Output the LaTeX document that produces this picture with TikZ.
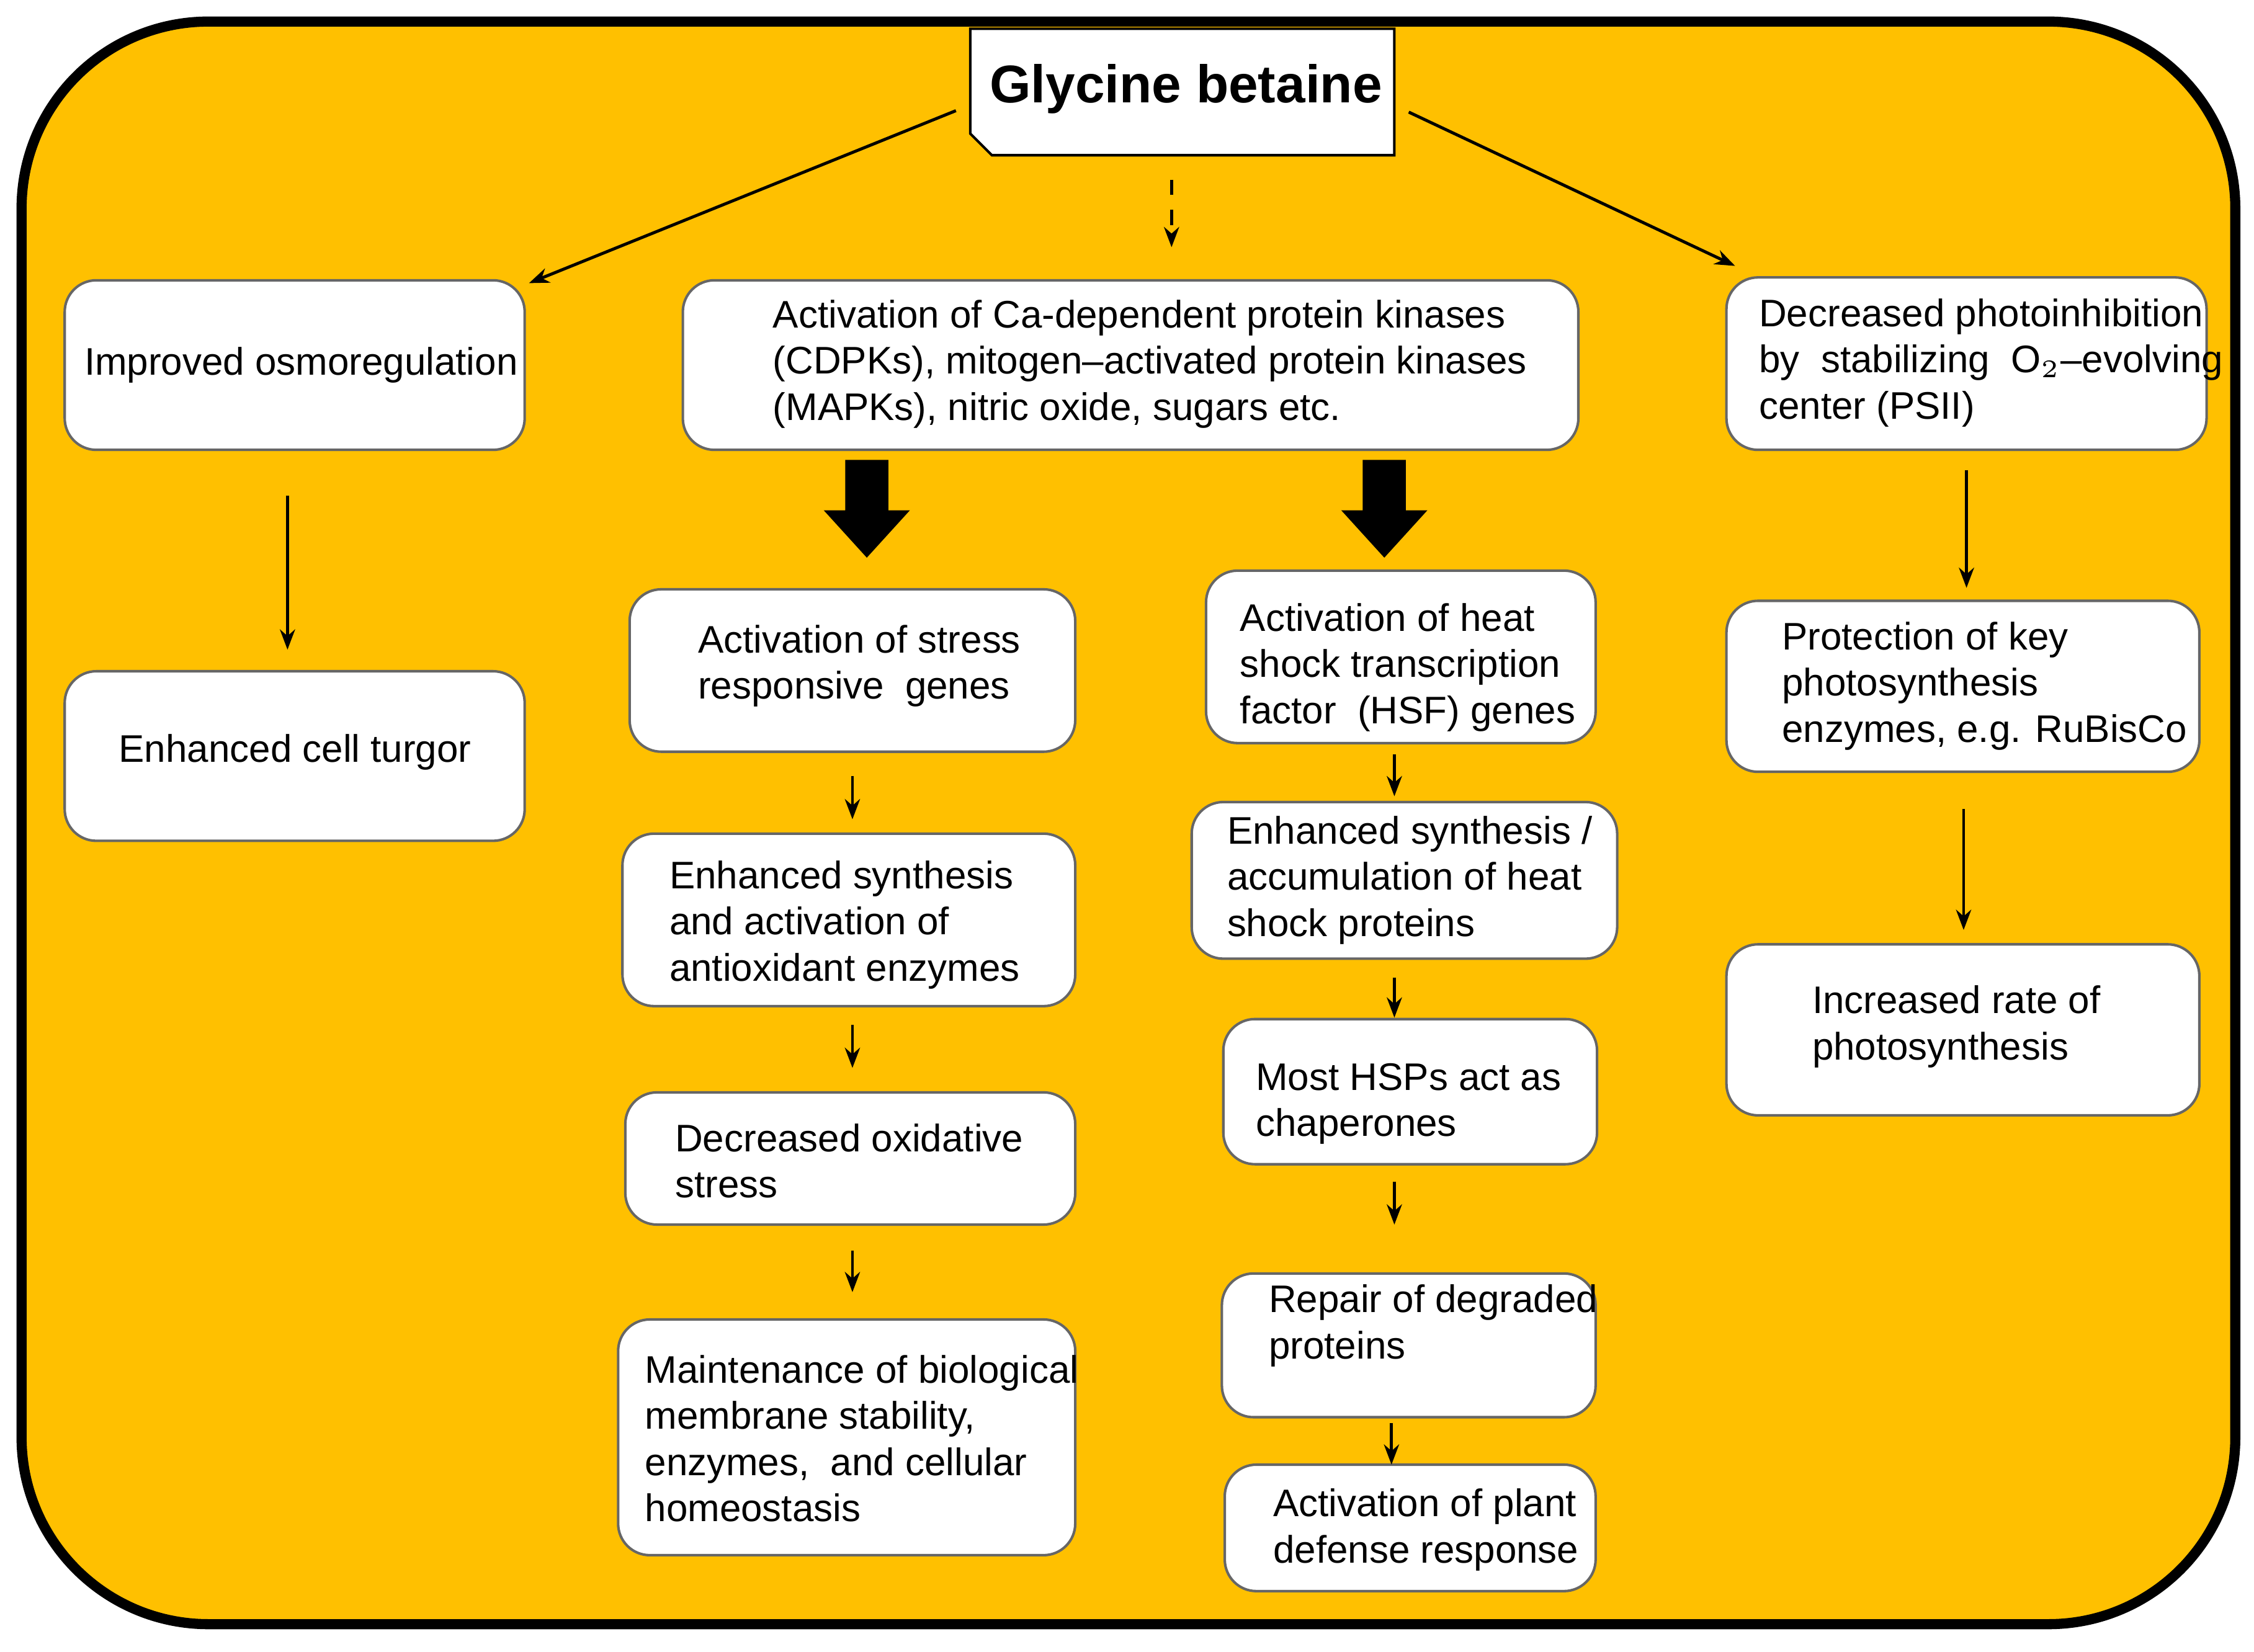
\documentclass[tikz,border=0pt]{standalone}
\usepackage{fontspec}
\setmainfont{Liberation Sans}
\usetikzlibrary{arrows.meta}
\begin{document}
\begin{tikzpicture}[x=0.01cm,y=-0.01cm,
  box/.style={draw=black!60,line width=0.5pt,fill=white,rounded corners=0.22cm},
  txt/.style={anchor=north west,align=left,inner sep=0,font=\fontsize{7.6}{9.15}\selectfont},
  ar/.style={-{Stealth[length=4pt,width=3pt]},line width=0.6pt},
  blk/.style={fill=black}]
\useasboundingbox (0,0) rectangle (1568,1149);
\draw[line width=2pt,fill={rgb,255:red,255;green,192;blue,0},rounded corners=1.3cm] (15,15) rectangle (1555,1130);
% title
\draw[line width=0.5pt,fill=white] (675,20) -- (970,20) -- (970,108) -- (690,108) -- (675,93) -- cycle;
\node[font=\bfseries\fontsize{10.5}{12}\selectfont] (t) at (825,62) {Glycine betaine};
% boxes
\draw[box] (45,195) rectangle (365,313); \draw[box] (45,467) rectangle (365,585);
\draw[box] (475,195) rectangle (1098,313);
\draw[box] (438,410) rectangle (748,523); \draw[box] (433,580) rectangle (748,700);
\draw[box] (435,760) rectangle (748,852); \draw[box] (430,918) rectangle (748,1082);
\draw[box] (839,397) rectangle (1110,517); \draw[box] (829,558) rectangle (1125,667);
\draw[box] (851,709) rectangle (1111,810); \draw[box] (850,886) rectangle (1110,986);
\draw[box] (852,1019) rectangle (1110,1107);
\draw[box] (1201,193) rectangle (1535,313); \draw[box] (1201,418) rectangle (1530,537);
\draw[box] (1201,657) rectangle (1530,776);
% texts
\node[txt] (a1) at (58,241) {Improved osmoregulation};
\node[txt] (a2) at (82,510) {Enhanced cell turgor};
\node[txt] (b) at (537,208) {Activation of Ca-dependent protein kinases\\(CDPKs), mitogen--activated protein kinases\\(MAPKs), nitric oxide, sugars etc.};
\node[txt] (c1) at (485,434) {Activation of stress\\responsive\ \ genes};
\node[txt] (c2) at (465,598) {Enhanced synthesis\\and activation of\\antioxidant enzymes};
\node[txt] (c3) at (469,781) {Decreased oxidative\\stress};
\node[txt] (c4) at (448,942) {Maintenance of biological\\membrane stability,\\enzymes,\ \ and cellular\\homeostasis};
\node[txt] (d1) at (862,419) {Activation of heat\\shock transcription\\factor\ \ (HSF) genes};
\node[txt] (d2) at (853,567) {Enhanced synthesis /\\accumulation of heat\\shock proteins};
\node[txt] (d3) at (873,739) {Most HSPs act as\\chaperones};
\node[txt] (d4) at (882,893) {Repair of degraded\\proteins};
\node[txt] (d5) at (885,1035) {Activation of plant\\defense response};
\node[txt] (e1) at (1223,207) {Decreased photoinhibition\\by\ \ stabilizing\ \ O$_2$--evolving\\center (PSII)};
\node[txt] (e2) at (1239,432) {Protection of key\\photosynthesis\\enzymes, e.g. RuBisCo};
\node[txt] (e3) at (1260,685) {Increased rate of\\photosynthesis};
% coordinates
\coordinate (p1) at (665,77); \coordinate (q1) at (368,197);
\coordinate (p2) at (980,78); \coordinate (q2) at (1207,185);
\coordinate (p3) at (815,125); \coordinate (q3) at (815,172);
\draw[ar] (p1) -- (q1); \draw[ar] (p2) -- (q2); \draw[ar,dashed] (p3) -- (q3);
\foreach \x in {603,963}{
 \fill[blk] (\x-15,320) -- (\x+15,320) -- (\x+15,355) -- (\x+30,355) -- (\x,388) -- (\x-30,355) -- (\x-15,355) -- cycle;}
\foreach \x/\a/\b in {200/345/452, 593/540/570, 593/713/743, 593/870/899, 970/525/554, 970/680/708, 970/822/852, 968/990/1019, 1368/327/409, 1366/563/647}{
 \coordinate (s) at (\x,\a); \coordinate (e) at (\x,\b); \draw[ar] (s) -- (e);}
\end{tikzpicture}
\end{document}
